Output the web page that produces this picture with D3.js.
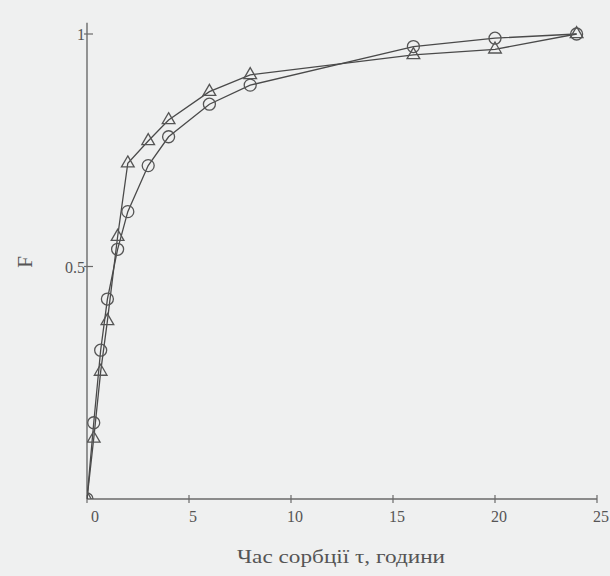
<!DOCTYPE html>
<html>
<head>
<meta charset="utf-8">
<script src="https://cdn.jsdelivr.net/npm/d3@7"></script>
<style>
  html, body { margin: 0; padding: 0; background: #eff0f0; }
  svg { display: block; }
  text { font-family: "Liberation Serif", "Times New Roman", Times, serif; }
</style>
</head>
<body>
<div id="chart"></div>
<script>
// sorption time, hours
const times = [0, 0.33, 0.67, 1, 1.5, 2, 3, 4, 6, 8, 16, 20, 24];
// F values, circle series
const circleF = [0, 0.164, 0.32, 0.43, 0.537, 0.618, 0.717, 0.779, 0.849, 0.89, 0.973, 0.991, 1.0];
// F values, triangle series
const triangleF = [0, 0.13, 0.274, 0.383, 0.564, 0.722, 0.77, 0.815, 0.876, 0.912, 0.955, 0.967, 1.0];
const xTicks = [0, 5, 10, 15, 20, 25];
const yTicks = [0.5, 1];

const width = 610, height = 576;
const axisColor = '#6a6a6a';
const lineColor = '#4a4a4a';
const textColor = '#555';

const svg = d3.select('#chart').append('svg')
  .attr('width', width)
  .attr('height', height);

const x = d3.scaleLinear().domain([0, 25]).range([87, 597]);
const y = d3.scaleLinear().domain([0, 1]).range([499, 34]);

svg.append('defs').append('clipPath')
  .attr('id', 'plot-clip')
  .append('rect')
  .attr('x', x(0)).attr('y', 0)
  .attr('width', width - x(0)).attr('height', y(0));

// axes
svg.append('line')
  .attr('x1', x(0)).attr('x2', x(25))
  .attr('y1', y(0)).attr('y2', y(0))
  .attr('stroke', axisColor).attr('stroke-width', 1.4);
svg.append('line')
  .attr('x1', x(0)).attr('x2', x(0))
  .attr('y1', y(0)).attr('y2', y(1.024))
  .attr('stroke', axisColor).attr('stroke-width', 1.4);

svg.selectAll('.xtick')
  .data(xTicks)
  .join('line')
  .attr('class', 'xtick')
  .attr('x1', d => x(d)).attr('x2', d => x(d))
  .attr('y1', y(0) - 4).attr('y2', y(0) + 4)
  .attr('stroke', axisColor).attr('stroke-width', 1.2);

svg.selectAll('.xlabel')
  .data(xTicks)
  .join('text')
  .attr('class', 'xlabel')
  .attr('x', d => x(d) + (d === 0 ? 8 : 4))
  .attr('y', y(0) + 23)
  .attr('text-anchor', 'middle')
  .attr('fill', textColor)
  .style('font-size', '16px')
  .text(d => d);

svg.selectAll('.ytick')
  .data(yTicks)
  .join('line')
  .attr('class', 'ytick')
  .attr('x1', x(0) - 3).attr('x2', x(0) + 6)
  .attr('y1', d => y(d)).attr('y2', d => y(d))
  .attr('stroke', axisColor).attr('stroke-width', 1.2);

svg.selectAll('.ylabel')
  .data(yTicks)
  .join('text')
  .attr('class', 'ylabel')
  .attr('x', x(0) - 2)
  .attr('y', d => y(d) + 6)
  .attr('text-anchor', 'end')
  .attr('fill', textColor)
  .style('font-size', '16px')
  .text(d => d);

// axis titles
svg.append('text')
  .attr('x', 341)
  .attr('y', 563)
  .attr('text-anchor', 'middle')
  .attr('fill', textColor)
  .attr('textLength', 208)
  .attr('lengthAdjust', 'spacingAndGlyphs')
  .style('font-size', '19px')
  .text('Час сорбції τ, години');

svg.append('text')
  .attr('transform', 'translate(32,262) rotate(-90)')
  .attr('text-anchor', 'middle')
  .attr('fill', textColor)
  .style('font-size', '21px')
  .text('F');

// series
const line = d3.line()
  .x(d => x(d[0]))
  .y(d => y(d[1]));

const circleData = times.map((t, i) => [t, circleF[i]]);
const triangleData = times.map((t, i) => [t, triangleF[i]]);

const plot = svg.append('g').attr('clip-path', 'url(#plot-clip)');

plot.append('path')
  .datum(triangleData)
  .attr('d', line)
  .attr('fill', 'none')
  .attr('stroke', lineColor)
  .attr('stroke-width', 1.3);

plot.append('path')
  .datum(circleData)
  .attr('d', line)
  .attr('fill', 'none')
  .attr('stroke', lineColor)
  .attr('stroke-width', 1.3);

plot.selectAll('.circ')
  .data(circleData)
  .join('circle')
  .attr('class', 'circ')
  .attr('cx', d => x(d[0]))
  .attr('cy', d => y(d[1]))
  .attr('r', 6)
  .attr('fill', 'none')
  .attr('stroke', '#555')
  .attr('stroke-width', 1.3);

const tri = d3.symbol().type(d3.symbolTriangle).size(70);
plot.selectAll('.tri')
  .data(triangleData)
  .join('path')
  .attr('class', 'tri')
  .attr('transform', d => `translate(${x(d[0])},${y(d[1])})`)
  .attr('d', tri)
  .attr('fill', 'none')
  .attr('stroke', '#555')
  .attr('stroke-width', 1.3);
</script>
</body>
</html>
